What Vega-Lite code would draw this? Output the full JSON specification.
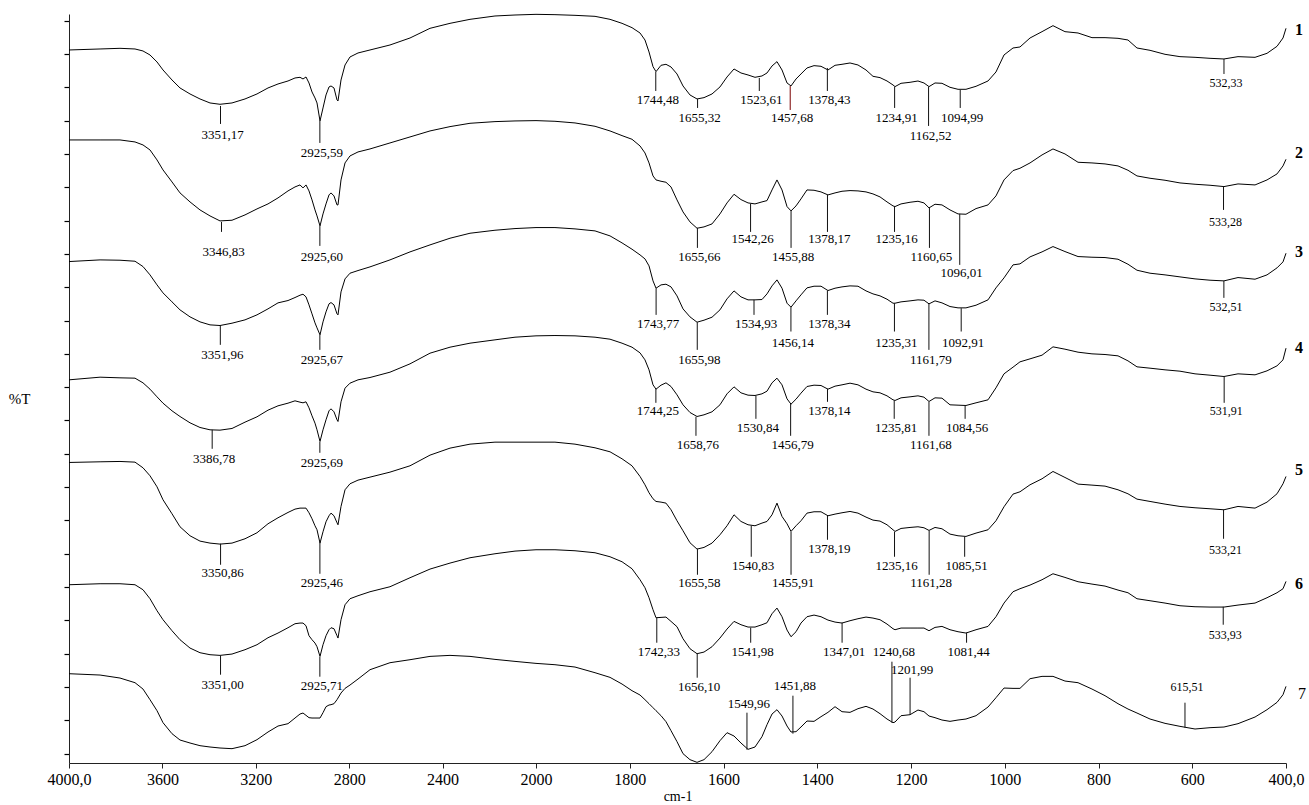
{
"$schema":"https://vega.github.io/schema/vega-lite/v6.json",
"width":1217,"height":749,
"autosize":{"type":"none"},
"padding":{"left":69,"top":14,"right":23,"bottom":42},
"background":"white",
"config":{"view":{"stroke":null},"font":"Liberation Serif"},
"datasets":{
"spectra":[
{"s":1,"w":4000,"t":211.2},{"s":1,"w":3867,"t":211.5},{"s":1,"w":3781.6,"t":211.7},{"s":1,"w":3717.3,"t":211.5},{"s":1,"w":3683.1,"t":210.9},{"s":1,"w":3653.1,"t":209.7},{"s":1,"w":3623.1,"t":207.6},{"s":1,"w":3597.4,"t":205.2},{"s":1,"w":3558.9,"t":202.2},{"s":1,"w":3524.6,"t":199.8},{"s":1,"w":3481.8,"t":198},{"s":1,"w":3439,"t":196.5},{"s":1,"w":3396.1,"t":195.3},{"s":1,"w":3353.3,"t":194.9},{"s":1,"w":3301.9,"t":195.3},{"s":1,"w":3246.2,"t":196.5},{"s":1,"w":3194.9,"t":198},{"s":1,"w":3147.7,"t":199.8},{"s":1,"w":3104.9,"t":201},{"s":1,"w":3062.1,"t":201.9},{"s":1,"w":3032.1,"t":202.8},{"s":1,"w":3010.7,"t":203},{"s":1,"w":2997.8,"t":202.5},{"s":1,"w":2985,"t":203.1},{"s":1,"w":2972.2,"t":201.3},{"s":1,"w":2959.3,"t":198.6},{"s":1,"w":2946.5,"t":196.8},{"s":1,"w":2937.9,"t":195.3},{"s":1,"w":2925,"t":189.9},{"s":1,"w":2912.2,"t":193.8},{"s":1,"w":2899.3,"t":197.7},{"s":1,"w":2886.5,"t":200.1},{"s":1,"w":2877.9,"t":200.4},{"s":1,"w":2865.1,"t":199.8},{"s":1,"w":2852.2,"t":196.2},{"s":1,"w":2847.9,"t":195.9},{"s":1,"w":2835.1,"t":202.2},{"s":1,"w":2817.9,"t":206.7},{"s":1,"w":2796.6,"t":209.1},{"s":1,"w":2762.3,"t":210.3},{"s":1,"w":2710.9,"t":211.2},{"s":1,"w":2625.3,"t":212.7},{"s":1,"w":2539.6,"t":214.8},{"s":1,"w":2453.9,"t":217.7},{"s":1,"w":2368.3,"t":219.2},{"s":1,"w":2282.6,"t":220.4},{"s":1,"w":2175.6,"t":221.4},{"s":1,"w":2089.9,"t":221.7},{"s":1,"w":2000,"t":221.9},{"s":1,"w":1959.5,"t":221.8},{"s":1,"w":1916.8,"t":221.6},{"s":1,"w":1874.1,"t":221.3},{"s":1,"w":1842.1,"t":220.4},{"s":1,"w":1816.5,"t":219.2},{"s":1,"w":1795.2,"t":217.9},{"s":1,"w":1778.1,"t":216.3},{"s":1,"w":1767.5,"t":214.2},{"s":1,"w":1758.9,"t":210.6},{"s":1,"w":1750.4,"t":206.2},{"s":1,"w":1744,"t":204.7},{"s":1,"w":1733.3,"t":206.6},{"s":1,"w":1722.7,"t":206.9},{"s":1,"w":1712,"t":206.1},{"s":1,"w":1699.2,"t":204},{"s":1,"w":1686.4,"t":200.4},{"s":1,"w":1671.5,"t":197.7},{"s":1,"w":1656.5,"t":196.5},{"s":1,"w":1641.6,"t":196.9},{"s":1,"w":1624.5,"t":198},{"s":1,"w":1607.5,"t":200.1},{"s":1,"w":1592.5,"t":203.1},{"s":1,"w":1577.6,"t":205.5},{"s":1,"w":1562.7,"t":204.3},{"s":1,"w":1547.7,"t":203.7},{"s":1,"w":1532.8,"t":203},{"s":1,"w":1517.9,"t":203.4},{"s":1,"w":1507.2,"t":204.3},{"s":1,"w":1496.5,"t":206.4},{"s":1,"w":1485.9,"t":207.7},{"s":1,"w":1475.2,"t":205.2},{"s":1,"w":1464.5,"t":201.3},{"s":1,"w":1456,"t":200.4},{"s":1,"w":1445.3,"t":202.5},{"s":1,"w":1434.7,"t":204},{"s":1,"w":1421.9,"t":205.8},{"s":1,"w":1406.9,"t":206.5},{"s":1,"w":1392,"t":206.3},{"s":1,"w":1377.1,"t":205.2},{"s":1,"w":1362.1,"t":206.6},{"s":1,"w":1347.2,"t":206.9},{"s":1,"w":1330.1,"t":207.3},{"s":1,"w":1313.1,"t":206.7},{"s":1,"w":1296,"t":205.2},{"s":1,"w":1281.1,"t":203.3},{"s":1,"w":1266.1,"t":202.9},{"s":1,"w":1251.2,"t":201.9},{"s":1,"w":1238.4,"t":200.7},{"s":1,"w":1234.1,"t":200.2},{"s":1,"w":1221.3,"t":201.2},{"s":1,"w":1202.1,"t":201.5},{"s":1,"w":1185.1,"t":201.9},{"s":1,"w":1172.3,"t":201.3},{"s":1,"w":1161.6,"t":200.2},{"s":1,"w":1148.8,"t":201.3},{"s":1,"w":1133.9,"t":201.2},{"s":1,"w":1116.8,"t":200},{"s":1,"w":1099.7,"t":199.4},{"s":1,"w":1082.7,"t":199.4},{"s":1,"w":1061.3,"t":200.3},{"s":1,"w":1035.7,"t":201.9},{"s":1,"w":1018.7,"t":204.6},{"s":1,"w":1001.6,"t":209.7},{"s":1,"w":982.4,"t":211.8},{"s":1,"w":967.5,"t":212.1},{"s":1,"w":946.1,"t":214.8},{"s":1,"w":920.5,"t":216.7},{"s":1,"w":897.1,"t":218.5},{"s":1,"w":871.5,"t":216.7},{"s":1,"w":843.7,"t":216.3},{"s":1,"w":813.9,"t":214.9},{"s":1,"w":786.1,"t":214.9},{"s":1,"w":758.4,"t":214.7},{"s":1,"w":737.1,"t":214.2},{"s":1,"w":717.9,"t":211.8},{"s":1,"w":690.1,"t":211.1},{"s":1,"w":658.1,"t":209.9},{"s":1,"w":626.2,"t":209.2},{"s":1,"w":594.1,"t":209},{"s":1,"w":562.1,"t":208.7},{"s":1,"w":532.3,"t":208.5},{"s":1,"w":502.4,"t":209.2},{"s":1,"w":466.1,"t":209},{"s":1,"w":440.5,"t":210.2},{"s":1,"w":419.2,"t":212.3},{"s":1,"w":406.4,"t":214.8},{"s":1,"w":400,"t":217.7},
{"s":2,"w":4000,"t":184.2},{"s":2,"w":3867,"t":184.2},{"s":2,"w":3781.6,"t":184.2},{"s":2,"w":3717.3,"t":183.6},{"s":2,"w":3683.1,"t":182.7},{"s":2,"w":3653.1,"t":181.2},{"s":2,"w":3623.1,"t":178.2},{"s":2,"w":3597.4,"t":175.2},{"s":2,"w":3558.9,"t":171.6},{"s":2,"w":3524.6,"t":168.3},{"s":2,"w":3481.8,"t":165.6},{"s":2,"w":3439,"t":163.2},{"s":2,"w":3396.1,"t":161.4},{"s":2,"w":3353.3,"t":159.9},{"s":2,"w":3301.9,"t":160.1},{"s":2,"w":3246.2,"t":161.7},{"s":2,"w":3194.9,"t":163.5},{"s":2,"w":3147.7,"t":165},{"s":2,"w":3104.9,"t":166.8},{"s":2,"w":3062.1,"t":168.9},{"s":2,"w":3032.1,"t":170.1},{"s":2,"w":3010.7,"t":170.7},{"s":2,"w":2997.8,"t":169.8},{"s":2,"w":2985,"t":170.7},{"s":2,"w":2972.2,"t":168.9},{"s":2,"w":2959.3,"t":166.2},{"s":2,"w":2946.5,"t":163.2},{"s":2,"w":2937.9,"t":161.4},{"s":2,"w":2925,"t":158.4},{"s":2,"w":2912.2,"t":162},{"s":2,"w":2899.3,"t":165},{"s":2,"w":2886.5,"t":167.7},{"s":2,"w":2877.9,"t":168.3},{"s":2,"w":2865.1,"t":167.4},{"s":2,"w":2852.2,"t":164.7},{"s":2,"w":2847.9,"t":164.7},{"s":2,"w":2835.1,"t":172.2},{"s":2,"w":2817.9,"t":177.3},{"s":2,"w":2796.6,"t":179.4},{"s":2,"w":2762.3,"t":180.6},{"s":2,"w":2710.9,"t":181.5},{"s":2,"w":2625.3,"t":183.3},{"s":2,"w":2539.6,"t":185.1},{"s":2,"w":2453.9,"t":186.9},{"s":2,"w":2368.3,"t":188.2},{"s":2,"w":2282.6,"t":189.2},{"s":2,"w":2175.6,"t":189.7},{"s":2,"w":2089.9,"t":189.9},{"s":2,"w":2000,"t":190},{"s":2,"w":1959.5,"t":189.8},{"s":2,"w":1916.8,"t":189.3},{"s":2,"w":1874.1,"t":188.3},{"s":2,"w":1842.1,"t":186.9},{"s":2,"w":1816.5,"t":185.5},{"s":2,"w":1795.2,"t":184.4},{"s":2,"w":1778.1,"t":182.4},{"s":2,"w":1767.5,"t":180.3},{"s":2,"w":1758.9,"t":177.3},{"s":2,"w":1750.4,"t":173.4},{"s":2,"w":1744,"t":172.2},{"s":2,"w":1733.3,"t":171.8},{"s":2,"w":1722.7,"t":171.5},{"s":2,"w":1712,"t":170.1},{"s":2,"w":1699.2,"t":166.2},{"s":2,"w":1686.4,"t":162.6},{"s":2,"w":1671.5,"t":159.6},{"s":2,"w":1656.5,"t":157.7},{"s":2,"w":1641.6,"t":158.1},{"s":2,"w":1624.5,"t":159},{"s":2,"w":1607.5,"t":162},{"s":2,"w":1592.5,"t":165.3},{"s":2,"w":1577.6,"t":167.9},{"s":2,"w":1562.7,"t":166.3},{"s":2,"w":1547.7,"t":165.3},{"s":2,"w":1532.8,"t":165},{"s":2,"w":1517.9,"t":165.6},{"s":2,"w":1507.2,"t":166},{"s":2,"w":1496.5,"t":169.2},{"s":2,"w":1485.9,"t":172.2},{"s":2,"w":1475.2,"t":169.2},{"s":2,"w":1464.5,"t":164.2},{"s":2,"w":1456,"t":162.9},{"s":2,"w":1445.3,"t":164.4},{"s":2,"w":1434.7,"t":166.5},{"s":2,"w":1421.9,"t":169.2},{"s":2,"w":1406.9,"t":169.1},{"s":2,"w":1392,"t":168.6},{"s":2,"w":1377.1,"t":167.7},{"s":2,"w":1362.1,"t":168.3},{"s":2,"w":1347.2,"t":168.8},{"s":2,"w":1330.1,"t":169},{"s":2,"w":1313.1,"t":168.9},{"s":2,"w":1296,"t":168.6},{"s":2,"w":1281.1,"t":168},{"s":2,"w":1266.1,"t":167.1},{"s":2,"w":1251.2,"t":165.6},{"s":2,"w":1238.4,"t":164.4},{"s":2,"w":1234.1,"t":164.2},{"s":2,"w":1221.3,"t":165},{"s":2,"w":1202.1,"t":165.5},{"s":2,"w":1185.1,"t":165.8},{"s":2,"w":1172.3,"t":165.3},{"s":2,"w":1161.6,"t":163.8},{"s":2,"w":1148.8,"t":164.9},{"s":2,"w":1133.9,"t":164.7},{"s":2,"w":1116.8,"t":163.2},{"s":2,"w":1099.7,"t":162},{"s":2,"w":1082.7,"t":161.9},{"s":2,"w":1061.3,"t":163.6},{"s":2,"w":1035.7,"t":164.7},{"s":2,"w":1018.7,"t":167.4},{"s":2,"w":1001.6,"t":172.2},{"s":2,"w":982.4,"t":175},{"s":2,"w":967.5,"t":175.7},{"s":2,"w":946.1,"t":177.3},{"s":2,"w":920.5,"t":179.7},{"s":2,"w":897.1,"t":181.5},{"s":2,"w":871.5,"t":180},{"s":2,"w":843.7,"t":177.5},{"s":2,"w":813.9,"t":177.3},{"s":2,"w":786.1,"t":177},{"s":2,"w":758.4,"t":176.4},{"s":2,"w":737.1,"t":175.1},{"s":2,"w":717.9,"t":173.4},{"s":2,"w":690.1,"t":172.7},{"s":2,"w":658.1,"t":172.1},{"s":2,"w":626.2,"t":171.3},{"s":2,"w":594.1,"t":170.9},{"s":2,"w":562.1,"t":170.6},{"s":2,"w":532.3,"t":170.2},{"s":2,"w":502.4,"t":171},{"s":2,"w":466.1,"t":170.7},{"s":2,"w":440.5,"t":172.2},{"s":2,"w":419.2,"t":174},{"s":2,"w":406.4,"t":176.4},{"s":2,"w":400,"t":178.4},
{"s":3,"w":4000,"t":147.7},{"s":3,"w":3867,"t":148.2},{"s":3,"w":3781.6,"t":148.1},{"s":3,"w":3717.3,"t":147.8},{"s":3,"w":3683.1,"t":146.2},{"s":3,"w":3653.1,"t":143.7},{"s":3,"w":3623.1,"t":140.7},{"s":3,"w":3597.4,"t":138.3},{"s":3,"w":3558.9,"t":135.6},{"s":3,"w":3524.6,"t":133.2},{"s":3,"w":3481.8,"t":131.1},{"s":3,"w":3439,"t":129.6},{"s":3,"w":3396.1,"t":128.7},{"s":3,"w":3353.3,"t":128.5},{"s":3,"w":3301.9,"t":129.2},{"s":3,"w":3246.2,"t":130.2},{"s":3,"w":3194.9,"t":131.7},{"s":3,"w":3147.7,"t":133.5},{"s":3,"w":3104.9,"t":135.3},{"s":3,"w":3062.1,"t":136},{"s":3,"w":3032.1,"t":136.9},{"s":3,"w":3010.7,"t":137.6},{"s":3,"w":2997.8,"t":137.9},{"s":3,"w":2985,"t":137.1},{"s":3,"w":2972.2,"t":134.7},{"s":3,"w":2959.3,"t":132},{"s":3,"w":2946.5,"t":129.3},{"s":3,"w":2937.9,"t":127.8},{"s":3,"w":2925,"t":125.7},{"s":3,"w":2912.2,"t":129.6},{"s":3,"w":2899.3,"t":132.6},{"s":3,"w":2886.5,"t":135},{"s":3,"w":2877.9,"t":135.4},{"s":3,"w":2865.1,"t":134.7},{"s":3,"w":2852.2,"t":132},{"s":3,"w":2847.9,"t":131.7},{"s":3,"w":2835.1,"t":138.6},{"s":3,"w":2817.9,"t":142.5},{"s":3,"w":2796.6,"t":144.2},{"s":3,"w":2762.3,"t":145},{"s":3,"w":2710.9,"t":146.1},{"s":3,"w":2625.3,"t":148.2},{"s":3,"w":2539.6,"t":150.6},{"s":3,"w":2453.9,"t":152.7},{"s":3,"w":2368.3,"t":154.7},{"s":3,"w":2282.6,"t":156.2},{"s":3,"w":2175.6,"t":157.1},{"s":3,"w":2089.9,"t":157.6},{"s":3,"w":2000,"t":157.9},{"s":3,"w":1959.5,"t":157.9},{"s":3,"w":1916.8,"t":157.5},{"s":3,"w":1874.1,"t":156.9},{"s":3,"w":1842.1,"t":155.4},{"s":3,"w":1816.5,"t":153.3},{"s":3,"w":1795.2,"t":151.4},{"s":3,"w":1778.1,"t":149.7},{"s":3,"w":1767.5,"t":148.5},{"s":3,"w":1758.9,"t":146.4},{"s":3,"w":1750.4,"t":141.9},{"s":3,"w":1744,"t":139.7},{"s":3,"w":1733.3,"t":140.7},{"s":3,"w":1722.7,"t":140.9},{"s":3,"w":1712,"t":140.1},{"s":3,"w":1699.2,"t":137.4},{"s":3,"w":1686.4,"t":133.5},{"s":3,"w":1671.5,"t":131.1},{"s":3,"w":1656.5,"t":129.5},{"s":3,"w":1641.6,"t":130.1},{"s":3,"w":1624.5,"t":131},{"s":3,"w":1607.5,"t":133.2},{"s":3,"w":1592.5,"t":136.5},{"s":3,"w":1577.6,"t":138.9},{"s":3,"w":1562.7,"t":137.1},{"s":3,"w":1547.7,"t":136.2},{"s":3,"w":1532.8,"t":136.2},{"s":3,"w":1517.9,"t":136.3},{"s":3,"w":1507.2,"t":138},{"s":3,"w":1496.5,"t":140.4},{"s":3,"w":1485.9,"t":142.2},{"s":3,"w":1475.2,"t":139.7},{"s":3,"w":1464.5,"t":135.2},{"s":3,"w":1456,"t":134},{"s":3,"w":1445.3,"t":135.9},{"s":3,"w":1434.7,"t":137.7},{"s":3,"w":1421.9,"t":139.8},{"s":3,"w":1406.9,"t":140.3},{"s":3,"w":1392,"t":140.3},{"s":3,"w":1377.1,"t":139},{"s":3,"w":1362.1,"t":139.7},{"s":3,"w":1347.2,"t":140.1},{"s":3,"w":1330.1,"t":140.4},{"s":3,"w":1313.1,"t":140.3},{"s":3,"w":1296,"t":138.9},{"s":3,"w":1281.1,"t":138},{"s":3,"w":1266.1,"t":137.4},{"s":3,"w":1251.2,"t":136.4},{"s":3,"w":1238.4,"t":135.2},{"s":3,"w":1234.1,"t":135.2},{"s":3,"w":1221.3,"t":135.6},{"s":3,"w":1202.1,"t":135.9},{"s":3,"w":1185.1,"t":136.2},{"s":3,"w":1172.3,"t":136.1},{"s":3,"w":1161.6,"t":135},{"s":3,"w":1148.8,"t":135.9},{"s":3,"w":1133.9,"t":135.3},{"s":3,"w":1116.8,"t":134.2},{"s":3,"w":1099.7,"t":133.8},{"s":3,"w":1082.7,"t":133.8},{"s":3,"w":1061.3,"t":134.6},{"s":3,"w":1035.7,"t":136.2},{"s":3,"w":1018.7,"t":139.8},{"s":3,"w":1001.6,"t":142.8},{"s":3,"w":982.4,"t":146.7},{"s":3,"w":967.5,"t":147},{"s":3,"w":946.1,"t":149.1},{"s":3,"w":920.5,"t":150.6},{"s":3,"w":897.1,"t":152.2},{"s":3,"w":871.5,"t":150.7},{"s":3,"w":843.7,"t":149.2},{"s":3,"w":813.9,"t":149},{"s":3,"w":786.1,"t":148.9},{"s":3,"w":758.4,"t":148.4},{"s":3,"w":737.1,"t":146.9},{"s":3,"w":717.9,"t":145.1},{"s":3,"w":690.1,"t":144.2},{"s":3,"w":658.1,"t":143.7},{"s":3,"w":626.2,"t":143.1},{"s":3,"w":594.1,"t":142.5},{"s":3,"w":562.1,"t":142.1},{"s":3,"w":532.3,"t":141.9},{"s":3,"w":502.4,"t":142.9},{"s":3,"w":466.1,"t":142.4},{"s":3,"w":440.5,"t":143.7},{"s":3,"w":419.2,"t":145.8},{"s":3,"w":406.4,"t":147.6},{"s":3,"w":400,"t":150.2},
{"s":4,"w":4000,"t":112.2},{"s":4,"w":3867,"t":113},{"s":4,"w":3781.6,"t":112.8},{"s":4,"w":3717.3,"t":112.7},{"s":4,"w":3683.1,"t":111.3},{"s":4,"w":3653.1,"t":109.4},{"s":4,"w":3623.1,"t":107.1},{"s":4,"w":3597.4,"t":105.2},{"s":4,"w":3558.9,"t":102.9},{"s":4,"w":3524.6,"t":101.2},{"s":4,"w":3481.8,"t":99.3},{"s":4,"w":3439,"t":97.9},{"s":4,"w":3396.1,"t":97.2},{"s":4,"w":3353.3,"t":97.1},{"s":4,"w":3301.9,"t":97.6},{"s":4,"w":3246.2,"t":99.5},{"s":4,"w":3194.9,"t":101.1},{"s":4,"w":3147.7,"t":103.1},{"s":4,"w":3104.9,"t":104.4},{"s":4,"w":3062.1,"t":105.2},{"s":4,"w":3032.1,"t":105.9},{"s":4,"w":3010.7,"t":105.5},{"s":4,"w":2997.8,"t":105.3},{"s":4,"w":2985,"t":105.6},{"s":4,"w":2972.2,"t":103.8},{"s":4,"w":2959.3,"t":101.4},{"s":4,"w":2946.5,"t":99.2},{"s":4,"w":2937.9,"t":97.2},{"s":4,"w":2925,"t":93.7},{"s":4,"w":2912.2,"t":97.2},{"s":4,"w":2899.3,"t":100.2},{"s":4,"w":2886.5,"t":102.9},{"s":4,"w":2877.9,"t":103.5},{"s":4,"w":2865.1,"t":102.6},{"s":4,"w":2852.2,"t":100.2},{"s":4,"w":2847.9,"t":99.7},{"s":4,"w":2835.1,"t":105.6},{"s":4,"w":2817.9,"t":109.7},{"s":4,"w":2796.6,"t":111.2},{"s":4,"w":2762.3,"t":112.2},{"s":4,"w":2710.9,"t":112.9},{"s":4,"w":2625.3,"t":114.5},{"s":4,"w":2539.6,"t":117},{"s":4,"w":2453.9,"t":120.2},{"s":4,"w":2368.3,"t":122},{"s":4,"w":2282.6,"t":123.2},{"s":4,"w":2175.6,"t":124.2},{"s":4,"w":2089.9,"t":125},{"s":4,"w":2000,"t":125.4},{"s":4,"w":1959.5,"t":125.5},{"s":4,"w":1916.8,"t":125.4},{"s":4,"w":1874.1,"t":125},{"s":4,"w":1842.1,"t":124.4},{"s":4,"w":1816.5,"t":123.2},{"s":4,"w":1795.2,"t":122},{"s":4,"w":1778.1,"t":120.3},{"s":4,"w":1767.5,"t":118.2},{"s":4,"w":1758.9,"t":115.2},{"s":4,"w":1750.4,"t":110.7},{"s":4,"w":1744,"t":109.4},{"s":4,"w":1733.3,"t":110.6},{"s":4,"w":1722.7,"t":111.3},{"s":4,"w":1712,"t":110.2},{"s":4,"w":1699.2,"t":107.7},{"s":4,"w":1686.4,"t":104.7},{"s":4,"w":1671.5,"t":102.4},{"s":4,"w":1656.5,"t":101.2},{"s":4,"w":1641.6,"t":101.7},{"s":4,"w":1624.5,"t":102.6},{"s":4,"w":1607.5,"t":104.7},{"s":4,"w":1592.5,"t":108},{"s":4,"w":1577.6,"t":110.1},{"s":4,"w":1562.7,"t":108.3},{"s":4,"w":1547.7,"t":107.6},{"s":4,"w":1532.8,"t":107.5},{"s":4,"w":1517.9,"t":108},{"s":4,"w":1507.2,"t":108.8},{"s":4,"w":1496.5,"t":111.3},{"s":4,"w":1485.9,"t":112.7},{"s":4,"w":1475.2,"t":110.7},{"s":4,"w":1464.5,"t":106.5},{"s":4,"w":1456,"t":104.9},{"s":4,"w":1445.3,"t":106.4},{"s":4,"w":1434.7,"t":108.2},{"s":4,"w":1421.9,"t":110.2},{"s":4,"w":1406.9,"t":110.6},{"s":4,"w":1392,"t":110.5},{"s":4,"w":1377.1,"t":109.4},{"s":4,"w":1362.1,"t":110.3},{"s":4,"w":1347.2,"t":110.7},{"s":4,"w":1330.1,"t":111.2},{"s":4,"w":1313.1,"t":110.7},{"s":4,"w":1296,"t":109.4},{"s":4,"w":1281.1,"t":108.6},{"s":4,"w":1266.1,"t":108.3},{"s":4,"w":1251.2,"t":107.4},{"s":4,"w":1238.4,"t":106.2},{"s":4,"w":1234.1,"t":106},{"s":4,"w":1221.3,"t":106.8},{"s":4,"w":1202.1,"t":107.1},{"s":4,"w":1185.1,"t":107.4},{"s":4,"w":1172.3,"t":107},{"s":4,"w":1161.6,"t":105.7},{"s":4,"w":1148.8,"t":106.8},{"s":4,"w":1133.9,"t":106.7},{"s":4,"w":1116.8,"t":104.7},{"s":4,"w":1099.7,"t":104.6},{"s":4,"w":1082.7,"t":104.5},{"s":4,"w":1061.3,"t":105.3},{"s":4,"w":1035.7,"t":106.2},{"s":4,"w":1018.7,"t":109.8},{"s":4,"w":1001.6,"t":114},{"s":4,"w":982.4,"t":116},{"s":4,"w":967.5,"t":117.6},{"s":4,"w":946.1,"t":118.5},{"s":4,"w":920.5,"t":119.6},{"s":4,"w":897.1,"t":122.1},{"s":4,"w":871.5,"t":121.4},{"s":4,"w":843.7,"t":120.5},{"s":4,"w":813.9,"t":120},{"s":4,"w":786.1,"t":119.8},{"s":4,"w":758.4,"t":119.4},{"s":4,"w":737.1,"t":117.9},{"s":4,"w":717.9,"t":116.1},{"s":4,"w":690.1,"t":115.7},{"s":4,"w":658.1,"t":115.2},{"s":4,"w":626.2,"t":114.8},{"s":4,"w":594.1,"t":114},{"s":4,"w":562.1,"t":113.6},{"s":4,"w":532.3,"t":113.2},{"s":4,"w":502.4,"t":114},{"s":4,"w":466.1,"t":113.7},{"s":4,"w":440.5,"t":114.9},{"s":4,"w":419.2,"t":116.4},{"s":4,"w":406.4,"t":118.2},{"s":4,"w":400,"t":121.7},
{"s":5,"w":4000,"t":87.4},{"s":5,"w":3867,"t":87.6},{"s":5,"w":3781.6,"t":87.7},{"s":5,"w":3717.3,"t":87.5},{"s":5,"w":3683.1,"t":85.8},{"s":5,"w":3653.1,"t":83.4},{"s":5,"w":3623.1,"t":80.1},{"s":5,"w":3597.4,"t":76.2},{"s":5,"w":3558.9,"t":72},{"s":5,"w":3524.6,"t":68.1},{"s":5,"w":3481.8,"t":65.4},{"s":5,"w":3439,"t":63.8},{"s":5,"w":3396.1,"t":63.2},{"s":5,"w":3353.3,"t":62.9},{"s":5,"w":3301.9,"t":63.2},{"s":5,"w":3246.2,"t":64.5},{"s":5,"w":3194.9,"t":66.3},{"s":5,"w":3147.7,"t":69},{"s":5,"w":3104.9,"t":70.8},{"s":5,"w":3062.1,"t":72.4},{"s":5,"w":3032.1,"t":73.4},{"s":5,"w":3010.7,"t":73.7},{"s":5,"w":2997.8,"t":73.7},{"s":5,"w":2985,"t":73.7},{"s":5,"w":2972.2,"t":72.3},{"s":5,"w":2959.3,"t":70.5},{"s":5,"w":2946.5,"t":68.4},{"s":5,"w":2937.9,"t":67.2},{"s":5,"w":2925,"t":63.2},{"s":5,"w":2912.2,"t":66.6},{"s":5,"w":2899.3,"t":69.6},{"s":5,"w":2886.5,"t":71.4},{"s":5,"w":2877.9,"t":72.2},{"s":5,"w":2865.1,"t":71.4},{"s":5,"w":2852.2,"t":69.3},{"s":5,"w":2847.9,"t":68.7},{"s":5,"w":2835.1,"t":74.2},{"s":5,"w":2817.9,"t":79.2},{"s":5,"w":2796.6,"t":81},{"s":5,"w":2762.3,"t":82.1},{"s":5,"w":2710.9,"t":83},{"s":5,"w":2625.3,"t":84.5},{"s":5,"w":2539.6,"t":86.4},{"s":5,"w":2453.9,"t":89.6},{"s":5,"w":2368.3,"t":91.7},{"s":5,"w":2282.6,"t":92.9},{"s":5,"w":2175.6,"t":93.5},{"s":5,"w":2089.9,"t":93.5},{"s":5,"w":2000,"t":93.5},{"s":5,"w":1959.5,"t":93.5},{"s":5,"w":1916.8,"t":92.9},{"s":5,"w":1874.1,"t":91.8},{"s":5,"w":1842.1,"t":90.6},{"s":5,"w":1816.5,"t":88.5},{"s":5,"w":1795.2,"t":86.4},{"s":5,"w":1778.1,"t":83.2},{"s":5,"w":1767.5,"t":80.7},{"s":5,"w":1758.9,"t":78.3},{"s":5,"w":1750.4,"t":76.5},{"s":5,"w":1744,"t":75.7},{"s":5,"w":1733.3,"t":75.5},{"s":5,"w":1722.7,"t":75.2},{"s":5,"w":1712,"t":73.2},{"s":5,"w":1699.2,"t":69.9},{"s":5,"w":1686.4,"t":66.9},{"s":5,"w":1671.5,"t":63.3},{"s":5,"w":1656.5,"t":61.4},{"s":5,"w":1641.6,"t":61.9},{"s":5,"w":1624.5,"t":63.2},{"s":5,"w":1607.5,"t":65.7},{"s":5,"w":1592.5,"t":68.4},{"s":5,"w":1577.6,"t":71.7},{"s":5,"w":1562.7,"t":69.7},{"s":5,"w":1547.7,"t":68.7},{"s":5,"w":1532.8,"t":68.4},{"s":5,"w":1517.9,"t":69.2},{"s":5,"w":1507.2,"t":69.7},{"s":5,"w":1496.5,"t":71.7},{"s":5,"w":1485.9,"t":75.2},{"s":5,"w":1475.2,"t":71.2},{"s":5,"w":1464.5,"t":69},{"s":5,"w":1456,"t":66.7},{"s":5,"w":1445.3,"t":68.4},{"s":5,"w":1434.7,"t":69.9},{"s":5,"w":1421.9,"t":72.2},{"s":5,"w":1406.9,"t":72.6},{"s":5,"w":1392,"t":72.6},{"s":5,"w":1377.1,"t":71.4},{"s":5,"w":1362.1,"t":71.9},{"s":5,"w":1347.2,"t":72.3},{"s":5,"w":1330.1,"t":72.7},{"s":5,"w":1313.1,"t":72.2},{"s":5,"w":1296,"t":71},{"s":5,"w":1281.1,"t":70.1},{"s":5,"w":1266.1,"t":69.8},{"s":5,"w":1251.2,"t":68.7},{"s":5,"w":1238.4,"t":67.2},{"s":5,"w":1234.1,"t":66.7},{"s":5,"w":1221.3,"t":67.6},{"s":5,"w":1202.1,"t":67.9},{"s":5,"w":1185.1,"t":68.1},{"s":5,"w":1172.3,"t":67.8},{"s":5,"w":1161.6,"t":67},{"s":5,"w":1148.8,"t":67.9},{"s":5,"w":1133.9,"t":67.5},{"s":5,"w":1116.8,"t":65.9},{"s":5,"w":1099.7,"t":65.4},{"s":5,"w":1082.7,"t":65.2},{"s":5,"w":1061.3,"t":66.2},{"s":5,"w":1035.7,"t":67.2},{"s":5,"w":1018.7,"t":69.9},{"s":5,"w":1001.6,"t":74.1},{"s":5,"w":982.4,"t":77.9},{"s":5,"w":967.5,"t":78.6},{"s":5,"w":946.1,"t":80.7},{"s":5,"w":920.5,"t":82.5},{"s":5,"w":897.1,"t":84.7},{"s":5,"w":871.5,"t":82.9},{"s":5,"w":843.7,"t":80.9},{"s":5,"w":813.9,"t":80.6},{"s":5,"w":786.1,"t":80.3},{"s":5,"w":758.4,"t":79.2},{"s":5,"w":737.1,"t":78},{"s":5,"w":717.9,"t":76.4},{"s":5,"w":690.1,"t":75.7},{"s":5,"w":658.1,"t":74.9},{"s":5,"w":626.2,"t":74.2},{"s":5,"w":594.1,"t":73.8},{"s":5,"w":562.1,"t":73.5},{"s":5,"w":532.3,"t":73.2},{"s":5,"w":502.4,"t":74.2},{"s":5,"w":466.1,"t":73.7},{"s":5,"w":440.5,"t":75.5},{"s":5,"w":419.2,"t":78},{"s":5,"w":406.4,"t":81},{"s":5,"w":400,"t":83.2},
{"s":6,"w":4000,"t":50.7},{"s":6,"w":3867,"t":51},{"s":6,"w":3781.6,"t":51},{"s":6,"w":3717.3,"t":50.7},{"s":6,"w":3683.1,"t":49.2},{"s":6,"w":3653.1,"t":46.5},{"s":6,"w":3623.1,"t":42.9},{"s":6,"w":3597.4,"t":40.2},{"s":6,"w":3558.9,"t":36.9},{"s":6,"w":3524.6,"t":34.2},{"s":6,"w":3481.8,"t":31.7},{"s":6,"w":3439,"t":30.3},{"s":6,"w":3396.1,"t":29.7},{"s":6,"w":3353.3,"t":29.5},{"s":6,"w":3301.9,"t":29.9},{"s":6,"w":3246.2,"t":31.2},{"s":6,"w":3194.9,"t":32.7},{"s":6,"w":3147.7,"t":34.8},{"s":6,"w":3104.9,"t":36.2},{"s":6,"w":3062.1,"t":37.8},{"s":6,"w":3032.1,"t":39},{"s":6,"w":3010.7,"t":39.2},{"s":6,"w":2997.8,"t":39.2},{"s":6,"w":2985,"t":38.4},{"s":6,"w":2972.2,"t":35.4},{"s":6,"w":2959.3,"t":34.2},{"s":6,"w":2946.5,"t":33.2},{"s":6,"w":2937.9,"t":32.1},{"s":6,"w":2925,"t":29.2},{"s":6,"w":2912.2,"t":32.7},{"s":6,"w":2899.3,"t":35.4},{"s":6,"w":2886.5,"t":37.2},{"s":6,"w":2877.9,"t":37.8},{"s":6,"w":2865.1,"t":37.5},{"s":6,"w":2852.2,"t":35.4},{"s":6,"w":2847.9,"t":34.7},{"s":6,"w":2835.1,"t":40.2},{"s":6,"w":2817.9,"t":44.7},{"s":6,"w":2796.6,"t":46.5},{"s":6,"w":2762.3,"t":47.4},{"s":6,"w":2710.9,"t":48.6},{"s":6,"w":2625.3,"t":50.1},{"s":6,"w":2539.6,"t":52.8},{"s":6,"w":2453.9,"t":55.4},{"s":6,"w":2368.3,"t":57.2},{"s":6,"w":2282.6,"t":58.8},{"s":6,"w":2175.6,"t":60},{"s":6,"w":2089.9,"t":60.8},{"s":6,"w":2000,"t":61.2},{"s":6,"w":1959.5,"t":61.2},{"s":6,"w":1916.8,"t":60.9},{"s":6,"w":1874.1,"t":60.3},{"s":6,"w":1842.1,"t":59.1},{"s":6,"w":1816.5,"t":57.6},{"s":6,"w":1795.2,"t":55.5},{"s":6,"w":1778.1,"t":52.2},{"s":6,"w":1767.5,"t":49.8},{"s":6,"w":1758.9,"t":46.8},{"s":6,"w":1750.4,"t":43.2},{"s":6,"w":1744,"t":40.8},{"s":6,"w":1733.3,"t":40.9},{"s":6,"w":1722.7,"t":41},{"s":6,"w":1712,"t":39.7},{"s":6,"w":1699.2,"t":38.1},{"s":6,"w":1686.4,"t":34.5},{"s":6,"w":1671.5,"t":31.5},{"s":6,"w":1656.5,"t":30},{"s":6,"w":1641.6,"t":30.5},{"s":6,"w":1624.5,"t":32.1},{"s":6,"w":1607.5,"t":34.7},{"s":6,"w":1592.5,"t":37.4},{"s":6,"w":1577.6,"t":39.7},{"s":6,"w":1562.7,"t":38.7},{"s":6,"w":1547.7,"t":38},{"s":6,"w":1532.8,"t":38},{"s":6,"w":1517.9,"t":38.7},{"s":6,"w":1507.2,"t":39.3},{"s":6,"w":1496.5,"t":42},{"s":6,"w":1485.9,"t":43.7},{"s":6,"w":1475.2,"t":41.1},{"s":6,"w":1464.5,"t":37.1},{"s":6,"w":1456,"t":35.1},{"s":6,"w":1445.3,"t":36.6},{"s":6,"w":1434.7,"t":39.2},{"s":6,"w":1421.9,"t":41.1},{"s":6,"w":1406.9,"t":41.6},{"s":6,"w":1392,"t":41.1},{"s":6,"w":1377.1,"t":40.1},{"s":6,"w":1362.1,"t":39.5},{"s":6,"w":1347.2,"t":39.2},{"s":6,"w":1330.1,"t":39.9},{"s":6,"w":1313.1,"t":40.5},{"s":6,"w":1296,"t":41},{"s":6,"w":1281.1,"t":40.7},{"s":6,"w":1266.1,"t":40.2},{"s":6,"w":1251.2,"t":38.9},{"s":6,"w":1238.4,"t":37.5},{"s":6,"w":1234.1,"t":37.2},{"s":6,"w":1221.3,"t":37.7},{"s":6,"w":1202.1,"t":37.7},{"s":6,"w":1185.1,"t":37.7},{"s":6,"w":1172.3,"t":37.7},{"s":6,"w":1161.6,"t":36.9},{"s":6,"w":1148.8,"t":37.9},{"s":6,"w":1133.9,"t":38.2},{"s":6,"w":1116.8,"t":37.2},{"s":6,"w":1099.7,"t":36.6},{"s":6,"w":1082.7,"t":36.2},{"s":6,"w":1061.3,"t":37.2},{"s":6,"w":1035.7,"t":38.2},{"s":6,"w":1018.7,"t":41.1},{"s":6,"w":1001.6,"t":45.2},{"s":6,"w":982.4,"t":48.6},{"s":6,"w":967.5,"t":49.5},{"s":6,"w":946.1,"t":50.6},{"s":6,"w":920.5,"t":52.2},{"s":6,"w":897.1,"t":54},{"s":6,"w":871.5,"t":52.9},{"s":6,"w":843.7,"t":51.6},{"s":6,"w":813.9,"t":50.9},{"s":6,"w":786.1,"t":50.3},{"s":6,"w":758.4,"t":49.1},{"s":6,"w":737.1,"t":48.3},{"s":6,"w":717.9,"t":46.5},{"s":6,"w":690.1,"t":45.9},{"s":6,"w":658.1,"t":45.2},{"s":6,"w":626.2,"t":44.4},{"s":6,"w":594.1,"t":44.1},{"s":6,"w":562.1,"t":44},{"s":6,"w":532.3,"t":44},{"s":6,"w":502.4,"t":44.6},{"s":6,"w":466.1,"t":45.2},{"s":6,"w":440.5,"t":46.8},{"s":6,"w":419.2,"t":48.3},{"s":6,"w":406.4,"t":49.5},{"s":6,"w":400,"t":51.7},
{"s":7,"w":4000,"t":24},{"s":7,"w":3867,"t":23.6},{"s":7,"w":3781.6,"t":22.7},{"s":7,"w":3717.3,"t":21.3},{"s":7,"w":3683.1,"t":19.4},{"s":7,"w":3653.1,"t":16.2},{"s":7,"w":3623.1,"t":12.9},{"s":7,"w":3597.4,"t":9.3},{"s":7,"w":3558.9,"t":6},{"s":7,"w":3524.6,"t":4.1},{"s":7,"w":3481.8,"t":3.2},{"s":7,"w":3439,"t":2.4},{"s":7,"w":3396.1,"t":2},{"s":7,"w":3353.3,"t":1.7},{"s":7,"w":3301.9,"t":1.5},{"s":7,"w":3246.2,"t":2.4},{"s":7,"w":3194.9,"t":4.2},{"s":7,"w":3147.7,"t":6.5},{"s":7,"w":3104.9,"t":8.3},{"s":7,"w":3062.1,"t":9},{"s":7,"w":3032.1,"t":10.7},{"s":7,"w":3010.7,"t":11.9},{"s":7,"w":2997.8,"t":12.2},{"s":7,"w":2985,"t":11.5},{"s":7,"w":2972.2,"t":10.8},{"s":7,"w":2959.3,"t":10.7},{"s":7,"w":2946.5,"t":10.7},{"s":7,"w":2937.9,"t":10.7},{"s":7,"w":2925,"t":10.7},{"s":7,"w":2912.2,"t":12.3},{"s":7,"w":2899.3,"t":14.1},{"s":7,"w":2886.5,"t":14.6},{"s":7,"w":2877.9,"t":14.7},{"s":7,"w":2865.1,"t":15},{"s":7,"w":2852.2,"t":16.2},{"s":7,"w":2847.9,"t":16.7},{"s":7,"w":2835.1,"t":18.2},{"s":7,"w":2817.9,"t":19.6},{"s":7,"w":2796.6,"t":20.6},{"s":7,"w":2762.3,"t":22.4},{"s":7,"w":2710.9,"t":25.2},{"s":7,"w":2625.3,"t":27.3},{"s":7,"w":2539.6,"t":28.2},{"s":7,"w":2453.9,"t":29.2},{"s":7,"w":2368.3,"t":29.5},{"s":7,"w":2282.6,"t":29.2},{"s":7,"w":2175.6,"t":28.3},{"s":7,"w":2089.9,"t":27.7},{"s":7,"w":2000,"t":27.1},{"s":7,"w":1959.5,"t":26.7},{"s":7,"w":1916.8,"t":26},{"s":7,"w":1874.1,"t":24.3},{"s":7,"w":1842.1,"t":22.9},{"s":7,"w":1816.5,"t":20.9},{"s":7,"w":1795.2,"t":18.9},{"s":7,"w":1778.1,"t":17.6},{"s":7,"w":1767.5,"t":16.2},{"s":7,"w":1758.9,"t":15},{"s":7,"w":1750.4,"t":13.8},{"s":7,"w":1744,"t":12.9},{"s":7,"w":1733.3,"t":11.4},{"s":7,"w":1722.7,"t":9.6},{"s":7,"w":1712,"t":6.9},{"s":7,"w":1699.2,"t":3.6},{"s":7,"w":1686.4,"t":0},{"s":7,"w":1671.5,"t":-1.8},{"s":7,"w":1656.5,"t":-2.6},{"s":7,"w":1641.6,"t":-1.8},{"s":7,"w":1624.5,"t":0.6},{"s":7,"w":1607.5,"t":3.9},{"s":7,"w":1592.5,"t":6.3},{"s":7,"w":1577.6,"t":5.3},{"s":7,"w":1562.7,"t":3.2},{"s":7,"w":1547.7,"t":1.3},{"s":7,"w":1532.8,"t":2},{"s":7,"w":1517.9,"t":5.1},{"s":7,"w":1507.2,"t":8.7},{"s":7,"w":1496.5,"t":11.9},{"s":7,"w":1485.9,"t":13.2},{"s":7,"w":1475.2,"t":11.3},{"s":7,"w":1464.5,"t":8.3},{"s":7,"w":1456,"t":6.5},{"s":7,"w":1445.3,"t":6.6},{"s":7,"w":1434.7,"t":8},{"s":7,"w":1421.9,"t":9.8},{"s":7,"w":1406.9,"t":9.7},{"s":7,"w":1392,"t":11.1},{"s":7,"w":1377.1,"t":12.4},{"s":7,"w":1362.1,"t":14.1},{"s":7,"w":1347.2,"t":12.6},{"s":7,"w":1330.1,"t":12.4},{"s":7,"w":1313.1,"t":13.5},{"s":7,"w":1296,"t":14.2},{"s":7,"w":1281.1,"t":13.4},{"s":7,"w":1266.1,"t":12},{"s":7,"w":1251.2,"t":10.4},{"s":7,"w":1238.4,"t":9.3},{"s":7,"w":1234.1,"t":9.5},{"s":7,"w":1221.3,"t":11.4},{"s":7,"w":1202.1,"t":11.7},{"s":7,"w":1185.1,"t":13.1},{"s":7,"w":1172.3,"t":12.6},{"s":7,"w":1161.6,"t":11.3},{"s":7,"w":1148.8,"t":10.8},{"s":7,"w":1133.9,"t":10.1},{"s":7,"w":1116.8,"t":9.7},{"s":7,"w":1099.7,"t":10.1},{"s":7,"w":1082.7,"t":10.4},{"s":7,"w":1061.3,"t":11.4},{"s":7,"w":1035.7,"t":14},{"s":7,"w":1018.7,"t":16.8},{"s":7,"w":1001.6,"t":19.7},{"s":7,"w":982.4,"t":19.6},{"s":7,"w":967.5,"t":19.6},{"s":7,"w":946.1,"t":22.5},{"s":7,"w":920.5,"t":23.2},{"s":7,"w":897.1,"t":23.2},{"s":7,"w":871.5,"t":21.8},{"s":7,"w":843.7,"t":21.3},{"s":7,"w":813.9,"t":19.4},{"s":7,"w":786.1,"t":17.4},{"s":7,"w":758.4,"t":15},{"s":7,"w":737.1,"t":13.4},{"s":7,"w":717.9,"t":12.2},{"s":7,"w":690.1,"t":10.4},{"s":7,"w":658.1,"t":9.1},{"s":7,"w":626.2,"t":8.2},{"s":7,"w":594.1,"t":7.4},{"s":7,"w":562.1,"t":7.8},{"s":7,"w":532.3,"t":8},{"s":7,"w":502.4,"t":9},{"s":7,"w":466.1,"t":11},{"s":7,"w":440.5,"t":13.2},{"s":7,"w":419.2,"t":15.4},{"s":7,"w":406.4,"t":17.7},{"s":7,"w":400,"t":20.2}
],
"peaks":[
{"s":1,"w":3351.17,"t1":194.4,"t2":189,"tl":185.7,"lab":"3351,17"},
{"s":1,"w":2925.59,"t1":189.9,"t2":183.3,"tl":180.4,"lab":"2925,59"},
{"s":1,"w":1744.48,"t1":204.6,"t2":198.9,"tl":196.2,"lab":"1744,48"},
{"s":1,"w":1655.32,"t1":196.5,"t2":193.8,"tl":190.7,"lab":"1655,32"},
{"s":1,"w":1523.61,"t1":202.8,"t2":198.9,"tl":196.2,"lab":"1523,61"},
{"s":1,"w":1457.68,"t1":200.4,"t2":193.2,"tl":190.7,"lab":"1457,68"},
{"s":1,"w":1378.43,"t1":205.8,"t2":198.9,"tl":196.2,"lab":"1378,43"},
{"s":1,"w":1234.91,"t1":200.1,"t2":193.8,"tl":190.7,"lab":"1234,91"},
{"s":1,"w":1162.52,"t1":200.1,"t2":188.4,"tl":185.4,"lab":"1162,52"},
{"s":1,"w":1094.99,"t1":199.2,"t2":193.8,"tl":190.7,"lab":"1094,99"},
{"s":1,"w":532.33,"t1":208.5,"t2":204,"tl":201.2,"lab":"532,33"},
{"s":2,"w":3346.83,"t1":159.6,"t2":156.6,"tl":150.7,"lab":"3346,83"},
{"s":2,"w":2925.6,"t1":158.4,"t2":152.4,"tl":149.2,"lab":"2925,60"},
{"s":2,"w":1655.66,"t1":157.8,"t2":151.8,"tl":149.2,"lab":"1655,66"},
{"s":2,"w":1542.26,"t1":165,"t2":156.6,"tl":154.5,"lab":"1542,26"},
{"s":2,"w":1455.88,"t1":162.9,"t2":151.8,"tl":149.2,"lab":"1455,88"},
{"s":2,"w":1378.17,"t1":167.7,"t2":156.6,"tl":154.5,"lab":"1378,17"},
{"s":2,"w":1235.16,"t1":164.1,"t2":156.6,"tl":154.5,"lab":"1235,16"},
{"s":2,"w":1160.65,"t1":163.8,"t2":151.8,"tl":149.2,"lab":"1160,65"},
{"s":2,"w":1096.01,"t1":162,"t2":146.7,"tl":144.2,"lab":"1096,01"},
{"s":2,"w":533.28,"t1":170.1,"t2":163.2,"tl":159.7,"lab":"533,28"},
{"s":3,"w":3351.96,"t1":128.4,"t2":122.7,"tl":119.7,"lab":"3351,96"},
{"s":3,"w":2925.67,"t1":125.7,"t2":121.2,"tl":118.2,"lab":"2925,67"},
{"s":3,"w":1743.77,"t1":139.7,"t2":131.7,"tl":128.9,"lab":"1743,77"},
{"s":3,"w":1655.98,"t1":129.5,"t2":121.2,"tl":118.2,"lab":"1655,98"},
{"s":3,"w":1534.93,"t1":136.2,"t2":131.7,"tl":129,"lab":"1534,93"},
{"s":3,"w":1456.14,"t1":134,"t2":126.7,"tl":123.4,"lab":"1456,14"},
{"s":3,"w":1378.34,"t1":139,"t2":131.7,"tl":129,"lab":"1378,34"},
{"s":3,"w":1235.31,"t1":135.2,"t2":126.7,"tl":123.4,"lab":"1235,31"},
{"s":3,"w":1161.79,"t1":135,"t2":121.2,"tl":118.2,"lab":"1161,79"},
{"s":3,"w":1092.91,"t1":133.7,"t2":126.7,"tl":123.4,"lab":"1092,91"},
{"s":3,"w":532.51,"t1":141.9,"t2":136.8,"tl":134,"lab":"532,51"},
{"s":4,"w":3386.78,"t1":97.2,"t2":91.5,"tl":88.4,"lab":"3386,78"},
{"s":4,"w":2925.69,"t1":93.6,"t2":90.3,"tl":87.2,"lab":"2925,69"},
{"s":4,"w":1744.25,"t1":109.5,"t2":105.3,"tl":102.7,"lab":"1744,25"},
{"s":4,"w":1658.76,"t1":101.1,"t2":95.4,"tl":92.5,"lab":"1658,76"},
{"s":4,"w":1530.84,"t1":107.4,"t2":100.5,"tl":97.7,"lab":"1530,84"},
{"s":4,"w":1456.79,"t1":105,"t2":95.4,"tl":92.5,"lab":"1456,79"},
{"s":4,"w":1378.14,"t1":109.5,"t2":105.6,"tl":102.7,"lab":"1378,14"},
{"s":4,"w":1235.81,"t1":105.9,"t2":100.5,"tl":97.7,"lab":"1235,81"},
{"s":4,"w":1161.68,"t1":105.6,"t2":95.4,"tl":92.5,"lab":"1161,68"},
{"s":4,"w":1084.56,"t1":104.4,"t2":100.5,"tl":97.7,"lab":"1084,56"},
{"s":4,"w":531.91,"t1":113.1,"t2":105.3,"tl":102.7,"lab":"531,91"},
{"s":5,"w":3350.86,"t1":63,"t2":56.7,"tl":54.2,"lab":"3350,86"},
{"s":5,"w":2925.46,"t1":63.3,"t2":54,"tl":51.2,"lab":"2925,46"},
{"s":5,"w":1655.58,"t1":61.5,"t2":53.7,"tl":51.2,"lab":"1655,58"},
{"s":5,"w":1540.83,"t1":68.4,"t2":59.1,"tl":56.2,"lab":"1540,83"},
{"s":5,"w":1455.91,"t1":66.6,"t2":53.7,"tl":51.2,"lab":"1455,91"},
{"s":5,"w":1378.19,"t1":71.4,"t2":64.2,"tl":61.4,"lab":"1378,19"},
{"s":5,"w":1235.16,"t1":66.6,"t2":59.1,"tl":56.2,"lab":"1235,16"},
{"s":5,"w":1161.28,"t1":66.9,"t2":53.7,"tl":51.2,"lab":"1161,28"},
{"s":5,"w":1085.51,"t1":65.1,"t2":59.1,"tl":56.2,"lab":"1085,51"},
{"s":5,"w":533.21,"t1":73.2,"t2":64.5,"tl":61.2,"lab":"533,21"},
{"s":6,"w":3351.0,"t1":29.4,"t2":23.7,"tl":20.5,"lab":"3351,00"},
{"s":6,"w":2925.71,"t1":29.1,"t2":23.1,"tl":20.2,"lab":"2925,71"},
{"s":6,"w":1742.33,"t1":40.8,"t2":33.3,"tl":30.4,"lab":"1742,33"},
{"s":6,"w":1656.1,"t1":30,"t2":22.8,"tl":20,"lab":"1656,10"},
{"s":6,"w":1541.98,"t1":37.8,"t2":33.3,"tl":30.4,"lab":"1541,98"},
{"s":6,"w":1347.01,"t1":39.3,"t2":33.3,"tl":30.4,"lab":"1347,01"},
{"s":6,"w":1081.44,"t1":36.3,"t2":33.3,"tl":30.4,"lab":"1081,44"},
{"s":6,"w":533.93,"t1":44.1,"t2":38.7,"tl":35.7,"lab":"533,93"},
{"s":7,"w":1549.96,"t1":1.2,"t2":12.3,"tl":15,"lab":"1549,96"},
{"s":7,"w":1451.88,"t1":6,"t2":17.4,"tl":20.2,"lab":"1451,88"},
{"s":7,"w":1240.68,"t1":9.3,"t2":27.6,"tl":30.4,"lab":"1240,68"},
{"s":7,"w":1201.99,"t1":11.7,"t2":22.8,"tl":25.2,"lab":"1201,99"},
{"s":7,"w":615.51,"t1":7.8,"t2":15.3,"tl":20,"lab":"615,51"}
],
"names":[
{"s":"1","w":400,"t":217.2},{"s":"2","w":400,"t":180.2},{"s":"3","w":400,"t":150.7},{"s":"4","w":400,"t":121.7},{"s":"5","w":400,"t":85},{"s":"6","w":400,"t":51},{"s":"7","w":400,"t":18}
]
},
"layer":[
{"data":{"name":"spectra"},
 "mark":{"type":"line","color":"#000","strokeWidth":1},
 "encoding":{
  "x":{"field":"w","type":"quantitative","title":"cm-1",
   "scale":{"domain":[4000,2000,400],"range":[0,467,1217],"nice":false,"zero":false},
   "axis":{"values":[4000,3600,3200,2800,2400,2000,1800,1600,1400,1200,1000,800,600,400],
    "labelExpr":"(datum.value == 4000 || datum.value == 400) ? datum.value + ',0' : '' + datum.value",
    "grid":false,"domainColor":"#222","tickColor":"#222","tickSize":5,"tickWidth":1,"labelFontSize":16,"labelColor":"#000","labelFont":"Liberation Serif","labelPadding":3,"labelOverlap":false,"labelFlush":false,
    "titleFont":"Liberation Serif","titleFontSize":14,"titleFontWeight":"normal","titleColor":"#000","titlePadding":2}},
  "y":{"field":"t","type":"quantitative","title":"%T",
   "scale":{"domain":[-2.8,222],"nice":false,"zero":false},
   "axis":{"tickCount":23,"tickMinStep":10,
    "labels":false,"labelOverlap":false,"grid":false,"domainColor":"#222","tickColor":"#000","tickSize":5,"tickWidth":1.2,
    "titleAngle":0,"titleX":-50,"titleY":384,"titleAlign":"center","titleBaseline":"middle",
    "titleFont":"Liberation Serif","titleFontSize":15,"titleFontWeight":"normal","titleColor":"#000"}},
  "detail":{"field":"s"}}},
{"data":{"name":"peaks"},
 "mark":{"type":"rule","strokeWidth":1},
 "encoding":{
  "x":{"field":"w","type":"quantitative","title":"cm-1"},
  "y":{"field":"t1","type":"quantitative","title":"%T"},
  "y2":{"field":"t2"},
  "color":{"condition":{"test":"datum.lab === '1457,68'","value":"#7a0000"},"value":"#111"}}},
{"data":{"name":"peaks"},
 "transform":[{"filter":"datum.w > 700"}],
 "mark":{"type":"text","font":"Liberation Serif","fontSize":13,"align":"center","baseline":"middle","dx":2,"color":"#000"},
 "encoding":{
  "x":{"field":"w","type":"quantitative","title":"cm-1"},
  "y":{"field":"tl","type":"quantitative","title":"%T"},
  "text":{"field":"lab"}}},
{"data":{"name":"peaks"},
 "transform":[{"filter":"datum.w < 700"}],
 "mark":{"type":"text","font":"Liberation Serif","fontSize":12,"align":"center","baseline":"middle","dx":2,"color":"#000"},
 "encoding":{
  "x":{"field":"w","type":"quantitative","title":"cm-1"},
  "y":{"field":"tl","type":"quantitative","title":"%T"},
  "text":{"field":"lab"}}},
{"data":{"name":"names"},
 "transform":[{"filter":"datum.s != '7'"}],
 "mark":{"type":"text","font":"Liberation Serif","fontSize":16,"fontWeight":"bold","align":"center","baseline":"middle","dx":13,"color":"#000"},
 "encoding":{
  "x":{"field":"w","type":"quantitative","title":"cm-1"},
  "y":{"field":"t","type":"quantitative","title":"%T"},
  "text":{"field":"s"}}},
{"data":{"name":"names"},
 "transform":[{"filter":"datum.s == '7'"}],
 "mark":{"type":"text","font":"Liberation Serif","fontSize":16,"align":"center","baseline":"middle","dx":16,"color":"#000"},
 "encoding":{
  "x":{"field":"w","type":"quantitative","title":"cm-1"},
  "y":{"field":"t","type":"quantitative","title":"%T"},
  "text":{"field":"s"}}}
]
}
